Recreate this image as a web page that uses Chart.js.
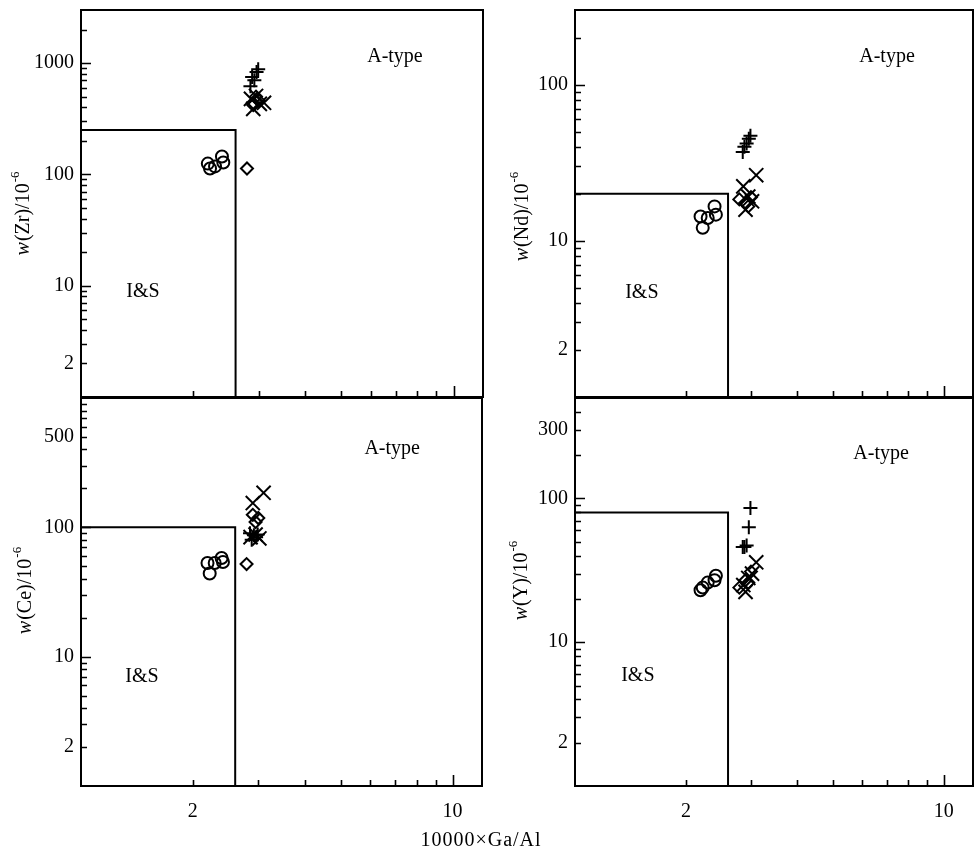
<!DOCTYPE html>
<html>
<head>
<meta charset="utf-8">
<script src="https://cdn.jsdelivr.net/npm/chart.js@4.4.1/dist/chart.umd.min.js"></script>
<style>
  body { margin: 0; background: #fff; }
  #wrap { position: relative; width: 976px; height: 852px; }
  canvas { position: absolute; }
  #xtitle { position: absolute; left: 0; width: 962px; top: 828px; text-align: center;
            font: 20px "Liberation Serif", "Times New Roman", serif; letter-spacing: 1px; }
</style>
</head>
<body>
<div id="wrap">
  <canvas id="cZr" width="490" height="398" style="left:0;top:0"></canvas>
  <canvas id="cNd" width="486" height="398" style="left:490px;top:0"></canvas>
  <canvas id="cCe" width="490" height="454" style="left:0;top:398px"></canvas>
  <canvas id="cY" width="486" height="454" style="left:490px;top:398px"></canvas>
  <div id="xtitle">10000×Ga/Al</div>
</div>
<script>
// 10000×Ga/Al of each sample group
const gaAlCircle = [2.19, 2.22, 2.29, 2.39, 2.41];
const gaAlDiamond = [2.79, 2.90, 2.95, 3.00];
const gaAlPlus = [2.85, 2.88, 2.92, 2.96, 2.99];
const gaAlCross = [2.86, 2.90, 2.95, 3.02, 3.10];

// w(Zr)/10^-6
const zrCircle = [125, 113, 118, 145, 128];
const zrDiamond = [113, 420, 500, 460];
const zrPlus = [620, 750, 700, 830, 880];
const zrCross = [477, 388, 507, 430, 440];

// w(Nd)/10^-6
const ndCircle = [14.3, 12.1, 14.0, 16.6, 14.7];
const ndDiamond = [18.4, 17.5, 16.6, 19.0];
const ndPlus = [37, 40, 42, 45, 47];
const ndCross = [22.3, 15.8, 19.2, 17.9, 26.3];

// w(Ce)/10^-6
const ceCircle = [53, 44, 53, 58, 54];
const ceDiamond = [52, 125, 110, 118];
const cePlus = [90, 80, 87, 84, 88];
const ceCross = [84, 154, 88, 82, 185];

// w(Y)/10^-6
const yCircle = [23, 24, 26, 27, 29];
const yDiamond = [24, 27, 26, 31];
const yPlus = [46, 46, 47, 63, 86];
const yCross = [25, 22.4, 28, 30, 36];

// I&S / A-type boundary lines
const gaAlLimit = 2.6;
const zrLimit = 250, ndLimit = 20, ceLimit = 100, yLimit = 80;

const xTicks = [2, 10];
const zrTicks = [2, 10, 100, 1000];
const ndTicks = [2, 10, 100];
const ceTicks = [2, 10, 100, 500];
const yTicks = [2, 10, 100, 300];

const FONT = '"Liberation Serif", "Times New Roman", serif';

const panels = [
  { id: 'cZr', el: 'Zr', yMax: 3000, ticks: zrTicks, limit: zrLimit,
    sets: [zrCircle, zrDiamond, zrPlus, zrCross], showX: false,
    yw: 81, xh: 1, pad: { top: 10, right: 7 }, title: [24, 213],
    aType: [0.781, 0.121], iS: [0.154, 0.729] },
  { id: 'cNd', el: 'Nd', yMax: 300, ticks: ndTicks, limit: ndLimit,
    sets: [ndCircle, ndDiamond, ndPlus, ndCross], showX: false,
    yw: 85, xh: 1, pad: { top: 10, right: 3 }, title: [33, 216],
    aType: [0.784, 0.121], iS: [0.168, 0.731] },
  { id: 'cCe', el: 'Ce', yMax: 1000, ticks: ceTicks, limit: ceLimit,
    sets: [ceCircle, ceDiamond, cePlus, ceCross], showX: true,
    yw: 81, xh: 66, pad: { top: 0, right: 8 }, title: [26, 192],
    aType: [0.776, 0.131], iS: [0.152, 0.719] },
  { id: 'cY', el: 'Y', yMax: 500, ticks: yTicks, limit: yLimit,
    sets: [yCircle, yDiamond, yPlus, yCross], showX: true,
    yw: 85, xh: 66, pad: { top: 0, right: 3 }, title: [32, 182],
    aType: [0.769, 0.144], iS: [0.158, 0.716] }
];

const groups = [
  { x: gaAlCircle, style: 'circle', r: 6 },
  { x: gaAlDiamond, style: 'rectRot', r: 6 },
  { x: gaAlPlus, style: 'cross', r: 7 },
  { x: gaAlCross, style: 'crossRot', r: 10 }
];

const framePlugin = {
  id: 'frame',
  afterDraw(chart) {
    const p = chart.options.plugins.frame;
    const { ctx, chartArea: a, scales: { x, y } } = chart;
    ctx.save();
    ctx.strokeStyle = '#000';
    ctx.lineWidth = 2;
    ctx.strokeRect(a.left, a.top, a.width, a.height);

    // inward log ticks
    ctx.lineWidth = 1.6;
    ctx.beginPath();
    for (let d = 0; Math.pow(10, d) <= y.max; d++) {
      for (let m = 1; m <= 9; m++) {
        const v = m * Math.pow(10, d);
        if (v <= y.min || v >= y.max) continue;
        const py = Math.round(y.getPixelForValue(v)) + 0.5;
        const len = m === 1 ? 10 : 6;
        ctx.moveTo(a.left, py);
        ctx.lineTo(a.left + len, py);
      }
    }
    for (let m = 2; m <= 10; m++) {
      const px = Math.round(x.getPixelForValue(m)) + 0.5;
      const len = m === 10 ? 11 : 6;
      ctx.moveTo(px, a.bottom);
      ctx.lineTo(px, a.bottom - len);
    }
    ctx.stroke();

    // field names
    ctx.fillStyle = '#000';
    ctx.font = '20px ' + FONT;
    ctx.textAlign = 'center';
    ctx.textBaseline = 'middle';
    ctx.fillText('A-type', a.left + p.aType[0] * a.width, a.top + p.aType[1] * a.height);
    ctx.fillText('I&S', a.left + p.iS[0] * a.width, a.top + p.iS[1] * a.height);

    // y title: w(El)/10^-6
    const parts = [
      { t: 'w', f: 'italic 20px ' + FONT, dy: 0 },
      { t: '(' + p.el + ')/10', f: '20px ' + FONT, dy: 0 },
      { t: '-6', f: '13px ' + FONT, dy: -8 }
    ];
    let total = 0;
    parts.forEach(s => { ctx.font = s.f; s.w = ctx.measureText(s.t).width + 1; total += s.w; });
    ctx.translate(p.title[0], p.title[1]);
    ctx.rotate(-Math.PI / 2);
    ctx.textAlign = 'left';
    ctx.textBaseline = 'middle';
    let cx = -total / 2;
    parts.forEach(s => {
      ctx.font = s.f;
      ctx.fillText(s.t, cx, s.dy);
      cx += s.w;
    });
    ctx.restore();
  }
};

panels.forEach(p => {
  const datasets = groups.map((g, i) => ({
    data: g.x.map((gx, k) => ({ x: gx, y: p.sets[i][k] })),
    pointStyle: g.style,
    pointRadius: g.r,
    borderColor: '#000',
    backgroundColor: 'rgba(0,0,0,0)',
    borderWidth: 2,
    showLine: false
  }));
  datasets.push({
    data: [{ x: 1, y: p.limit }, { x: gaAlLimit, y: p.limit }, { x: gaAlLimit, y: 1 }],
    showLine: true,
    pointRadius: 0,
    borderColor: '#000',
    borderWidth: 2,
    fill: false
  });

  new Chart(document.getElementById(p.id), {
    type: 'scatter',
    data: { datasets: datasets },
    plugins: [framePlugin],
    options: {
      responsive: false,
      animation: false,
      layout: { autoPadding: false,
                padding: { top: p.pad.top, right: p.pad.right, left: 0, bottom: 0 } },
      plugins: {
        legend: { display: false },
        tooltip: { enabled: false },
        frame: { el: p.el, title: p.title, aType: p.aType, iS: p.iS }
      },
      scales: {
        x: {
          type: 'logarithmic', min: 1, max: 12,
          afterBuildTicks: s => { s.ticks = xTicks.map(v => ({ value: v })); },
          afterFit: s => { s.height = p.xh; s.paddingLeft = 0; s.paddingRight = 0; },
          grid: { display: false, drawTicks: false },
          border: { display: false },
          ticks: { display: p.showX, autoSkip: false, maxRotation: 0, padding: 14,
                   color: '#000', font: { family: FONT, size: 20 },
                   callback: v => String(v) }
        },
        y: {
          type: 'logarithmic', min: 1, max: p.yMax,
          afterBuildTicks: s => { s.ticks = p.ticks.map(v => ({ value: v })); },
          afterFit: s => { s.width = p.yw; s.paddingTop = 0; s.paddingBottom = 0; },
          grid: { display: false, drawTicks: false },
          border: { display: false },
          ticks: { autoSkip: false, padding: 7, color: '#000',
                   font: { family: FONT, size: 20 },
                   callback: v => String(v) }
        }
      }
    }
  });
});
</script>
</body>
</html>
